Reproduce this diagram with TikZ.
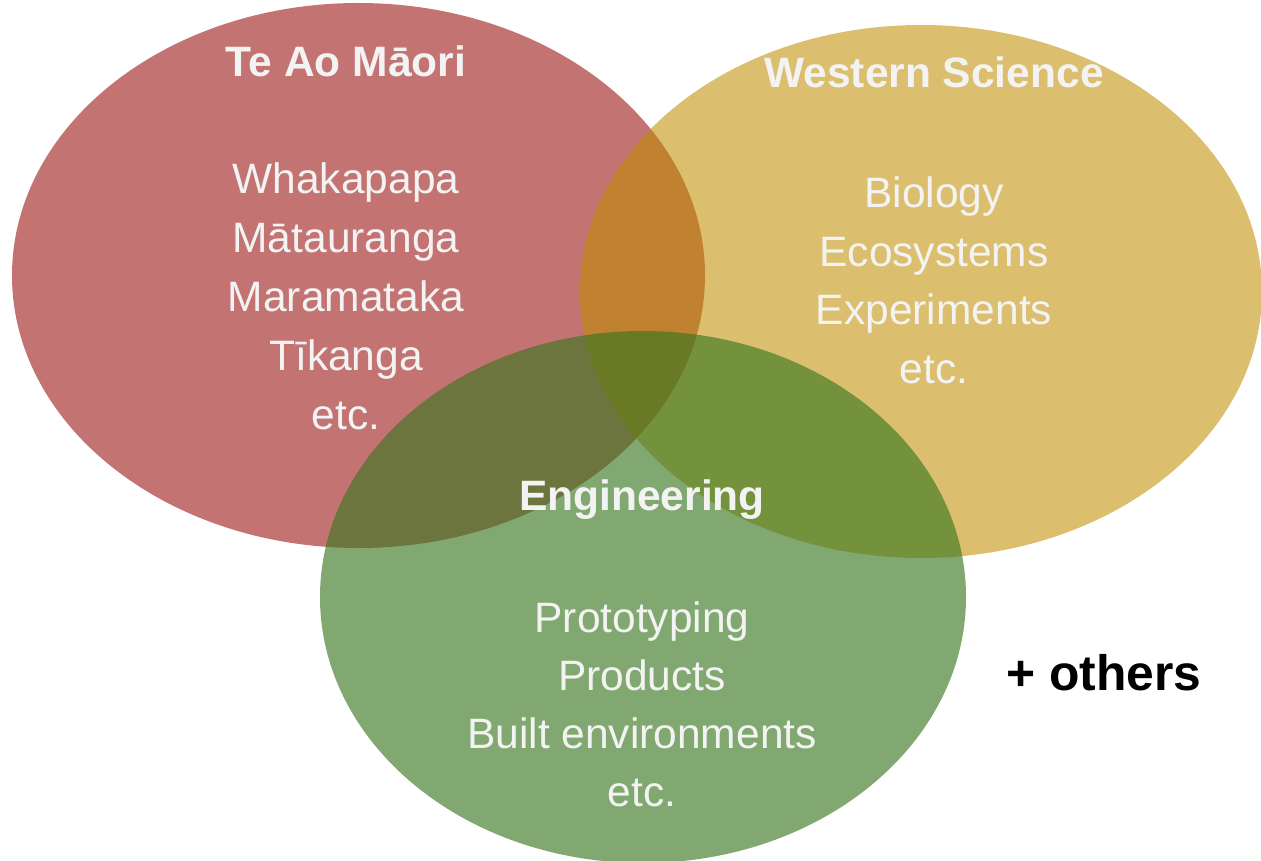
\documentclass[tikz,border=0pt]{standalone}
\usepackage{fontspec}
\setmainfont{Liberation Sans}
\definecolor{redbase}{RGB}{151,9,9}
\definecolor{yellowbase}{RGB}{191,143,0}
\definecolor{greenbase}{RGB}{56,118,29}
\definecolor{txt}{RGB}{243,243,243}
\tikzset{
  setred/.style={fill=redbase, fill opacity=0.57},
  setyellow/.style={fill=yellowbase, fill opacity=0.57},
  setgreen/.style={fill=greenbase, fill opacity=0.63},
  title/.style={anchor=base, inner sep=0pt, text=txt, font=\fontsize{42.5}{50}\selectfont\bfseries},
  item/.style={anchor=base, inner sep=0pt, text=txt, font=\fontsize{42.5}{50}\selectfont},
  extra/.style={anchor=base, inner sep=0pt, text=black, font=\fontsize{49.8}{58}\selectfont\bfseries}
}
\begin{document}
\begin{tikzpicture}[x=1pt,y=-1pt]
\useasboundingbox (0,0) rectangle (1261,861);
\clip (0,0) rectangle (1261,861);
% sets
\fill[setred] (358.5,275.5) ellipse [x radius=346.5pt, y radius=272.5pt];
\fill[setyellow] (921,291.5) ellipse [x radius=341pt, y radius=266.5pt];
\fill[setgreen] (643,597) ellipse [x radius=323pt, y radius=266pt];
% Te Ao Maori
\node[title] (tm) at (346,77) {Te Ao Māori};
\node[item] (r1) at (346,194) {Whakapapa};
\node[item] (r2) at (346,252.7) {Mātauranga};
\node[item] (r3) at (346,311.5) {Maramataka};
\node[item] (r4) at (346,370.2) {Tīkanga};
\node[item] (r5) at (346,429) {etc.};
% Western Science
\node[title] (ws) at (934,88) {Western Science};
\node[item] (y1) at (934,207.5) {Biology};
\node[item] (y2) at (934,266) {Ecosystems};
\node[item] (y3) at (934,324.5) {Experiments};
\node[item] (y4) at (934,383) {etc.};
% Engineering
\node[title] (en) at (642,510) {Engineering};
\node[item] (g1) at (642,632.5) {Prototyping};
\node[item] (g2) at (642,690.5) {Products};
\node[item] (g3) at (642,748.5) {Built environments};
\node[item] (g4) at (642,806.5) {etc.};
% others
\node[extra] (ot) at (1104,690) {+ others};
\end{tikzpicture}
\end{document}
